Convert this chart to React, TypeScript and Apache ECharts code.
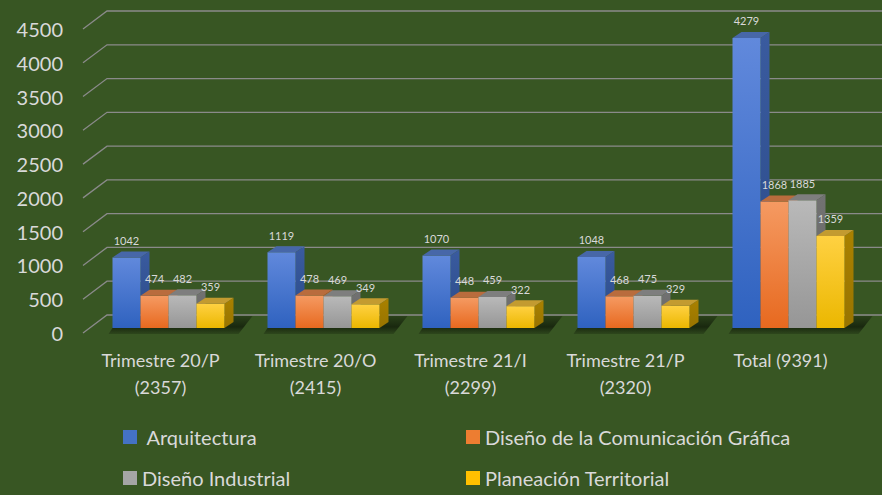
import React, { useEffect, useRef } from 'react';
import * as echarts from 'echarts';

const categories = [
  'Trimestre 20/P\n(2357)',
  'Trimestre 20/O\n(2415)',
  'Trimestre 21/I\n(2299)',
  'Trimestre 21/P\n(2320)',
  'Total (9391)',
];
const seriesNames = [
  'Arquitectura',
  'Diseño de la Comunicación Gráfica',
  'Diseño Industrial',
  'Planeación Territorial',
];
const arquitectura = [1042, 1119, 1070, 1048, 4279];
const comunicacion = [474, 478, 448, 468, 1868];
const industrial = [482, 469, 459, 475, 1885];
const planeacion = [359, 349, 322, 329, 1359];
const yTicks = [0, 500, 1000, 1500, 2000, 2500, 3000, 3500, 4000, 4500];

const FONT = 'Lato';
const TEXT = '#d9d9d9';

const palettes = [
  { legend: '#4472c4', front: ['#6189dc', '#2f62bf'], top: '#4767a8', side: ['#3a5b9f', '#2a4a88'] },
  { legend: '#ed7d31', front: ['#f59a62', '#e7691f'], top: '#b96c3d', side: ['#b8622c', '#a9521c'] },
  { legend: '#a5a5a5', front: ['#b9b9b9', '#969696'], top: '#7e7e7e', side: ['#727272', '#666666'] },
  { legend: '#ffc000', front: ['#ffd142', '#ebb700'], top: '#c39b30', side: ['#a98100', '#987400'] },
];

const BW = 28;
const DX = 9;
const DY = -6;
const GROUP_SHIFT = 8;

export default function App() {
  const ref = useRef<HTMLDivElement>(null);
  useEffect(() => {
    document.body.style.margin = '0';
    if (!ref.current) return;
    const chart = echarts.init(ref.current, undefined, { renderer: 'svg' });
    const values = [arquitectura, comunicacion, industrial, planeacion];

    const barSeries = values.map((vals, j) => ({
      type: 'custom',
      name: seriesNames[j],
      xAxisIndex: 0,
      yAxisIndex: 0,
      clip: false,
      itemStyle: { color: palettes[j].legend },
      encode: { x: 0, y: 1 },
      data: vals.map((v, i) => [i, v]),
      renderItem: (params: any, api: any) => {
        const i = api.value(0);
        const v = api.value(1);
        const base = api.coord([i, 0]);
        const topP = api.coord([i, v]);
        const left = base[0] + GROUP_SHIFT - 2 * BW + j * BW;
        const right = left + BW;
        const yb = base[1];
        const yt = topP[1];
        const p = palettes[j];
        return {
          type: 'group',
          children: [
            {
              type: 'polygon',
              shape: { points: [[right, yb], [right + DX, yb + DY], [right + DX, yt + DY], [right, yt]] },
              style: {
                fill: new echarts.graphic.LinearGradient(0, 0, 0, 1, [
                  { offset: 0, color: p.side[0] },
                  { offset: 1, color: p.side[1] },
                ]),
              },
            },
            {
              type: 'rect',
              shape: { x: left, y: yt, width: BW, height: yb - yt },
              style: {
                fill: new echarts.graphic.LinearGradient(0, 0, 0, 1, [
                  { offset: 0, color: p.front[0] },
                  { offset: 1, color: p.front[1] },
                ]),
              },
            },
            {
              type: 'polygon',
              shape: { points: [[left, yt], [left + DX, yt + DY], [right + DX, yt + DY], [right, yt]] },
              style: { fill: p.top },
            },
            {
              type: 'text',
              style: {
                text: String(v),
                x: left + BW / 2,
                y: yt + DY - 11,
                align: 'center',
                verticalAlign: 'middle',
                fill: TEXT,
                font: `11px ${FONT}`,
              },
            },
          ],
        };
      },
    }));

    const shadowSeries = {
      type: 'custom',
      xAxisIndex: 0,
      yAxisIndex: 0,
      clip: false,
      silent: true,
      encode: { x: 0, y: 1 },
      data: categories.map((_, i) => [i, 0]),
      renderItem: (params: any, api: any) => {
        const base = api.coord([api.value(0), 0]);
        const x0 = base[0] + GROUP_SHIFT - 2 * BW;
        const x1 = x0 + 4 * BW;
        const yb = base[1];
        return {
          type: 'polygon',
          shape: { points: [[x0 - 4, yb + 6], [x1 + 14, yb + 6], [x1 + 28, yb - 12], [x0 + 8, yb - 12]] },
          style: {
            fill: new echarts.graphic.LinearGradient(0, 0, 0, 1, [
              { offset: 0, color: 'rgba(15,25,8,0.35)' },
              { offset: 0.6, color: 'rgba(15,25,8,0.75)' },
              { offset: 1, color: 'rgba(15,25,8,0.25)' },
            ]),
          },
        };
      },
    };

    const gridSeries = {
      type: 'custom',
      xAxisIndex: 1,
      yAxisIndex: 1,
      clip: false,
      silent: true,
      encode: { x: 0, y: 1 },
      data: yTicks.map((t) => [0, t]),
      renderItem: (params: any, api: any) => {
        const cs = params.coordSys;
        const y = api.coord([0, api.value(1)])[1];
        return {
          type: 'polyline',
          shape: { points: [[cs.x, y], [cs.x + 24, y - 18], [api.getWidth(), y - 18]] },
          style: { stroke: '#8a8a8a', lineWidth: 1.3, fill: 'none' },
        };
      },
    };

    const legendBase = {
      icon: 'rect',
      itemWidth: 14,
      itemHeight: 14,
      itemGap: 0,
      padding: 0,
      textStyle: { color: TEXT, fontSize: 20, fontFamily: FONT, lineHeight: 24 },
    };

    chart.setOption({
      animation: false,
      backgroundColor: '#385623',
      textStyle: { fontFamily: FONT },
      grid: [
        { left: 83, right: 24, top: 23, bottom: 167 },
        { left: 83, right: 24, top: 29, bottom: 162 },
      ],
      xAxis: [
        {
          type: 'category',
          gridIndex: 0,
          data: categories,
          axisLine: { show: false },
          axisTick: { show: false },
          axisLabel: { color: TEXT, fontSize: 18, lineHeight: 27, margin: 18, interval: 0, fontFamily: FONT },
        },
        { type: 'category', gridIndex: 1, data: categories, show: false },
      ],
      yAxis: [
        { type: 'value', gridIndex: 0, min: 0, max: 4500, show: false },
        {
          type: 'value',
          gridIndex: 1,
          min: 0,
          max: 4500,
          interval: 500,
          axisLine: { show: false },
          axisTick: { show: false },
          splitLine: { show: false },
          axisLabel: {
            color: TEXT,
            fontSize: 20,
            margin: 20,
            fontFamily: FONT,
            formatter: (v: number) => String(v),
          },
        },
      ],
      legend: [
        { ...legendBase, data: [seriesNames[0]], left: 123, top: 425, formatter: (n: string) => ' ' + n },
        { ...legendBase, data: [seriesNames[1]], left: 466, top: 425 },
        { ...legendBase, data: [seriesNames[2]], left: 123, top: 466 },
        { ...legendBase, data: [seriesNames[3]], left: 466, top: 466 },
      ],
      series: [gridSeries, shadowSeries, ...barSeries],
    });
    return () => chart.dispose();
  }, []);
  return <div ref={ref} style={{ width: 882, height: 495 }} />;
}
